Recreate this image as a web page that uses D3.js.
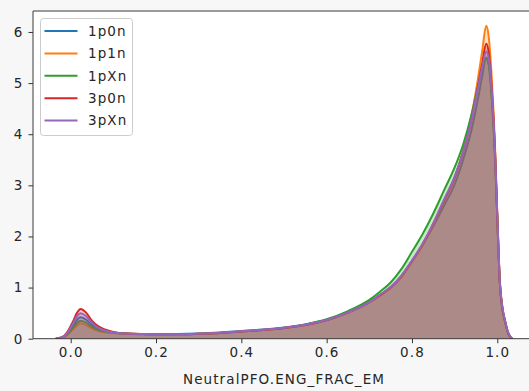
<!DOCTYPE html>
<html>
<head>
<meta charset="utf-8">
<script src="https://cdn.jsdelivr.net/npm/d3@7"></script>
<style>
  html, body { margin: 0; padding: 0; background: #f7f7f7; }
  svg { display: block; font-family: "DejaVu Sans", sans-serif; }
  text { letter-spacing: 1.1px; }
</style>
</head>
<body>
<svg id="chart" width="529" height="391"></svg>
<script>
// Evaluation grid for the density curves
const xGrid = [-0.035, -0.025, -0.015, -0.005, 0.005, 0.015, 0.023, 0.035, 0.05, 0.065, 0.08, 0.1,
  0.13, 0.17, 0.2, 0.25, 0.3, 0.35, 0.4, 0.45, 0.5, 0.55, 0.6, 0.65, 0.7,
  0.725, 0.75, 0.775, 0.8, 0.825, 0.85, 0.875, 0.9, 0.92, 0.94, 0.955, 0.965, 0.974, 0.98, 0.987,
  0.995, 1.0, 1.006, 1.012, 1.018, 1.025, 1.035];

const categories = ["1p0n", "1p1n", "1pXn", "3p0n", "3pXn"];

const dens1p0n = [0, 0.015, 0.045, 0.13, 0.25, 0.37, 0.42, 0.38, 0.27, 0.19, 0.15, 0.12,
  0.1, 0.09, 0.088, 0.09, 0.1, 0.12, 0.15, 0.18, 0.22, 0.28, 0.37, 0.52, 0.72,
  0.86, 1.01, 1.23, 1.52, 1.83, 2.2, 2.6, 3.02, 3.5, 4.1, 4.7, 5.15, 5.5, 5.38, 4.75,
  3.5, 2.35, 1.08, 0.58, 0.34, 0.12, 0];
const dens1p1n = [0, 0.01, 0.035, 0.09, 0.18, 0.26, 0.30, 0.27, 0.2, 0.15, 0.125, 0.11,
  0.1, 0.09, 0.086, 0.087, 0.096, 0.11, 0.14, 0.17, 0.21, 0.27, 0.36, 0.51, 0.71,
  0.84, 0.99, 1.2, 1.5, 1.83, 2.23, 2.68, 3.15, 3.68, 4.38, 5.1, 5.65, 6.12, 5.9, 5.1,
  3.7, 2.45, 1.12, 0.61, 0.35, 0.12, 0];
const dens1pXn = [0, 0.015, 0.04, 0.11, 0.21, 0.31, 0.35, 0.32, 0.23, 0.17, 0.14, 0.115,
  0.095, 0.088, 0.085, 0.085, 0.095, 0.11, 0.14, 0.17, 0.21, 0.28, 0.38, 0.54, 0.76,
  0.92, 1.1, 1.36, 1.7, 2.05, 2.45, 2.9, 3.35, 3.8, 4.4, 4.95, 5.3, 5.48, 5.35, 4.7,
  3.5, 2.35, 1.08, 0.58, 0.34, 0.12, 0];
const dens3p0n = [0, 0.02, 0.06, 0.17, 0.33, 0.51, 0.58, 0.52, 0.35, 0.24, 0.18, 0.13,
  0.1, 0.09, 0.085, 0.085, 0.095, 0.11, 0.14, 0.17, 0.21, 0.27, 0.36, 0.51, 0.71,
  0.85, 1.0, 1.22, 1.52, 1.85, 2.25, 2.7, 3.15, 3.65, 4.3, 4.95, 5.4, 5.77, 5.6, 4.9,
  3.6, 2.4, 1.1, 0.6, 0.35, 0.12, 0];
const dens3pXn = [0, 0.02, 0.05, 0.15, 0.29, 0.44, 0.50, 0.45, 0.31, 0.21, 0.16, 0.12,
  0.1, 0.09, 0.087, 0.088, 0.098, 0.115, 0.145, 0.175, 0.215, 0.275, 0.365, 0.515, 0.715,
  0.86, 1.01, 1.23, 1.53, 1.86, 2.26, 2.72, 3.17, 3.66, 4.3, 4.92, 5.33, 5.62, 5.48, 4.85,
  3.6, 2.42, 1.12, 0.62, 0.36, 0.13, 0];

const seriesValues = [dens1p0n, dens1p1n, dens1pXn, dens3p0n, dens3pXn];
const colors = ["#1f77b4", "#ff7f0e", "#2ca02c", "#d62728", "#9467bd"];

const xTicks = [0.0, 0.2, 0.4, 0.6, 0.8, 1.0];
const yTicks = [0, 1, 2, 3, 4, 5, 6];
const xLabel = "NeutralPFO.ENG_FRAC_EM";

const svg = d3.select("#chart");
const plot = { left: 33, right: 535, top: 11, bottom: 338.7 };
const fontSize = "13.5px";

const x = d3.scaleLinear().domain([-0.0884, 1.0884]).range([plot.left, plot.right]);
const y = d3.scaleLinear().domain([0, 6.41]).range([plot.bottom, plot.top]);

// Axes background
svg.append("rect")
  .attr("x", plot.left).attr("y", plot.top)
  .attr("width", plot.right - plot.left).attr("height", plot.bottom - plot.top)
  .attr("fill", "#ffffff");

const clip = svg.append("defs").append("clipPath").attr("id", "plotclip");
clip.append("rect")
  .attr("x", plot.left).attr("y", plot.top)
  .attr("width", plot.right - plot.left).attr("height", plot.bottom - plot.top);

const area = d3.area()
  .x((d, i) => x(xGrid[i]))
  .y0(y(0))
  .y1(d => y(d))
  .curve(d3.curveMonotoneX);
const line = d3.line()
  .x((d, i) => x(xGrid[i]))
  .y(d => y(d))
  .curve(d3.curveMonotoneX);

// Each density: outline first, then its translucent fill on top
const marks = svg.append("g").attr("clip-path", "url(#plotclip)");
categories.forEach((name, k) => {
  marks.append("path")
    .datum(seriesValues[k])
    .attr("d", line)
    .attr("fill", "none")
    .attr("stroke", colors[k])
    .attr("stroke-width", 2)
    .attr("stroke-linejoin", "round");
  marks.append("path")
    .datum(seriesValues[k])
    .attr("d", area)
    .attr("fill", colors[k])
    .attr("fill-opacity", 0.25)
    .attr("stroke", "none");
});

// Axes
const xAxis = d3.axisBottom(x).tickValues(xTicks).tickFormat(d3.format(".1f")).tickSize(4.5).tickPadding(4);
const yAxis = d3.axisLeft(y).tickValues(yTicks).tickFormat(d3.format("d")).tickSize(4.5).tickPadding(5);

const gx = svg.append("g").attr("transform", `translate(0,${plot.bottom})`).call(xAxis);
const gy = svg.append("g").attr("transform", `translate(${plot.left},0)`).call(yAxis);
[gx, gy].forEach(g => {
  g.select(".domain").remove();
  g.selectAll(".tick line").attr("stroke", "#333").attr("stroke-width", 1);
  g.selectAll(".tick text").attr("fill", "#262626").style("font-size", fontSize)
    .style("font-family", "'DejaVu Sans', sans-serif");
});

// Spines
const spine = svg.append("g").attr("stroke", "#3a3a3a").attr("stroke-width", 1).attr("fill", "none");
spine.append("line").attr("x1", plot.left).attr("x2", plot.right).attr("y1", plot.top).attr("y2", plot.top);
spine.append("line").attr("x1", plot.left).attr("x2", plot.right).attr("y1", plot.bottom).attr("y2", plot.bottom);
spine.append("line").attr("x1", plot.left).attr("x2", plot.left).attr("y1", plot.top).attr("y2", plot.bottom);
spine.append("line").attr("x1", plot.right).attr("x2", plot.right).attr("y1", plot.top).attr("y2", plot.bottom);

svg.append("text")
  .attr("x", (plot.left + plot.right) / 2)
  .attr("y", 384)
  .attr("text-anchor", "middle")
  .attr("fill", "#262626")
  .style("font-size", fontSize)
  .text(xLabel);

// Legend
const legend = svg.append("g");
legend.append("rect")
  .attr("x", 40.5).attr("y", 18.5).attr("width", 92).attr("height", 117)
  .attr("rx", 3).attr("fill", "#ffffff").attr("fill-opacity", 0.8)
  .attr("stroke", "#cccccc").attr("stroke-width", 1);
categories.forEach((name, k) => {
  const ly = 31 + k * 22.4;
  legend.append("line")
    .attr("x1", 44.5).attr("x2", 77.5).attr("y1", ly).attr("y2", ly)
    .attr("stroke", colors[k]).attr("stroke-width", 2);
  legend.append("text")
    .attr("x", 88).attr("y", ly).attr("dy", "0.36em")
    .attr("fill", "#262626").style("font-size", fontSize)
    .text(name);
});
</script>
</body>
</html>
